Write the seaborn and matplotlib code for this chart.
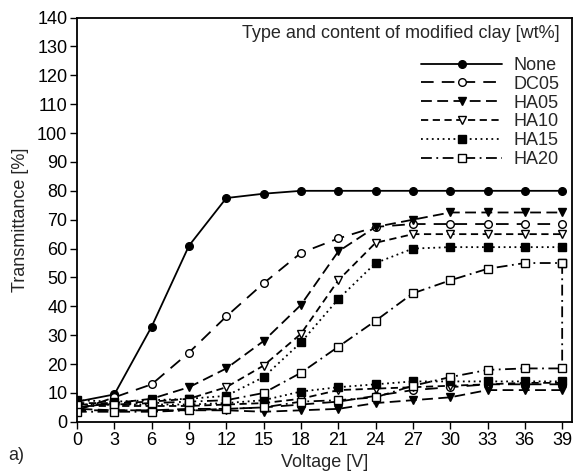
import numpy as np
import pandas as pd
import matplotlib
matplotlib.use("Agg")
import matplotlib.pyplot as plt
import seaborn as sns

voltage = [0, 3, 6, 9, 12, 15, 18, 21, 24, 27, 30, 33, 36, 39]
voltage_back = voltage[::-1]

series_names = ["None", "DC05", "HA05", "HA10", "HA15", "HA20"]

none_up = [7, 9.5, 33, 61, 77.5, 79, 80, 80, 80, 80, 80, 80, 80, 80]
dc05_up = [4, 8.5, 13, 24, 36.5, 48, 58.5, 63.5, 67.5, 68.5, 68.5, 68.5, 68.5, 68.5]
ha05_up = [5, 6.5, 8, 12, 18.5, 28, 40.5, 59, 67.5, 70, 72.5, 72.5, 72.5, 72.5]
ha10_up = [6.5, 6.5, 7, 8, 12, 19.5, 30.5, 49, 62, 65, 65, 65, 65, 65]
ha15_up = [7.5, 7, 7.5, 8, 9, 15.5, 27.5, 42.5, 55, 60, 60.5, 60.5, 60.5, 60.5]
ha20_up = [6, 6, 6.5, 7, 7.5, 10, 17, 26, 35, 44.5, 49, 53, 55, 55]

# return branches, listed from 39 V down to 0 V
dc05_back = [13, 13, 13, 12, 11, 9, 7, 6, 5, 4.5, 4.5, 4, 4, 4]
ha05_back = [11, 11, 11, 8.5, 7.5, 6.5, 4.5, 4, 3.5, 4, 4, 4, 4, 4.5]
ha10_back = [13.5, 13.5, 13, 12.5, 12, 11.5, 11, 8, 6.5, 6, 5.5, 5.5, 5.5, 5.5]
ha15_back = [14, 14, 14, 14, 14, 13, 12, 10.5, 7.5, 6.5, 6, 6, 6, 6]
ha20_back = [18.5, 18.5, 18, 15.5, 12.5, 8.5, 7.5, 7, 5, 4.5, 4, 3.5, 3.5, 3.5]

up = {"None": none_up, "DC05": dc05_up, "HA05": ha05_up, "HA10": ha10_up,
      "HA15": ha15_up, "HA20": ha20_up}
back = {"DC05": dc05_back, "HA05": ha05_back, "HA10": ha10_back,
        "HA15": ha15_back, "HA20": ha20_back}

styles = {
    "None": dict(ls="-", marker="o", mfc="black"),
    "DC05": dict(ls=(0, (7, 4.5)), marker="o", mfc="white"),
    "HA05": dict(ls=(0, (6, 3)), marker="v", mfc="black"),
    "HA10": dict(ls=(0, (4, 2.5)), marker="v", mfc="white"),
    "HA15": dict(ls=(0, (1, 2)), marker="s", mfc="black"),
    "HA20": dict(ls=(0, (6, 2.5, 1, 2.5)), marker="s", mfc="white"),
}

sns.set_style("ticks")
plt.rcParams["font.family"] = ["Liberation Sans", "DejaVu Sans"]
FS = 13

fig = plt.figure(figsize=(5.75, 4.74), dpi=100)
ax = fig.add_axes([0.134, 0.110, 0.861, 0.853])

for name in series_names:
    st = styles[name]
    common = dict(color="black", linewidth=1.3, marker=st["marker"],
                  markersize=6 if st["marker"] != "o" else 5.5,
                  markerfacecolor=st["mfc"], markeredgecolor="black",
                  markeredgewidth=1.0, linestyle=st["ls"])
    df_up = pd.DataFrame({"Voltage": voltage, "T": up[name]})
    sns.lineplot(data=df_up, x="Voltage", y="T", ax=ax, sort=False,
                 estimator=None, label=name, **common)
    if name in back:
        vb = voltage_back
        yb = back[name]
        if name == "HA20":
            vb = [39] + voltage_back
            yb = [up[name][-1]] + back[name]
        df_b = pd.DataFrame({"Voltage": vb, "T": yb})
        sns.lineplot(data=df_b, x="Voltage", y="T", ax=ax, sort=False,
                     estimator=None, label="_nolegend_", **common)

ax.set_xlim(0, 39.8)
ax.set_ylim(0, 140)
ax.set_xticks(voltage)
ax.set_yticks(np.arange(0, 141, 10))
ax.tick_params(direction="out", length=5, width=1, pad=2, labelsize=FS,
               colors="black")
for sp in ax.spines.values():
    sp.set_visible(True)
    sp.set_linewidth(1.3)
    sp.set_color("black")

ax.set_xlabel("Voltage [V]", fontsize=FS, labelpad=4)
ax.set_ylabel("Transmittance [%]", fontsize=FS, labelpad=6)

leg = ax.legend(loc="upper left", bbox_to_anchor=(421 / 575, 1 - 57 / 474),
                bbox_transform=fig.transFigure, frameon=False,
                fontsize=FS, handlelength=4.5, labelspacing=0.1,
                handletextpad=0.6, borderpad=0, borderaxespad=0)

fig.text(560 / 575, 1 - 33 / 474, "Type and content of modified clay [wt%]",
         fontsize=FS, ha="right", va="center")
fig.text(0.014, 1 - 455 / 474, "a)", fontsize=FS, va="center")

fig.savefig("out.png", dpi=100)
